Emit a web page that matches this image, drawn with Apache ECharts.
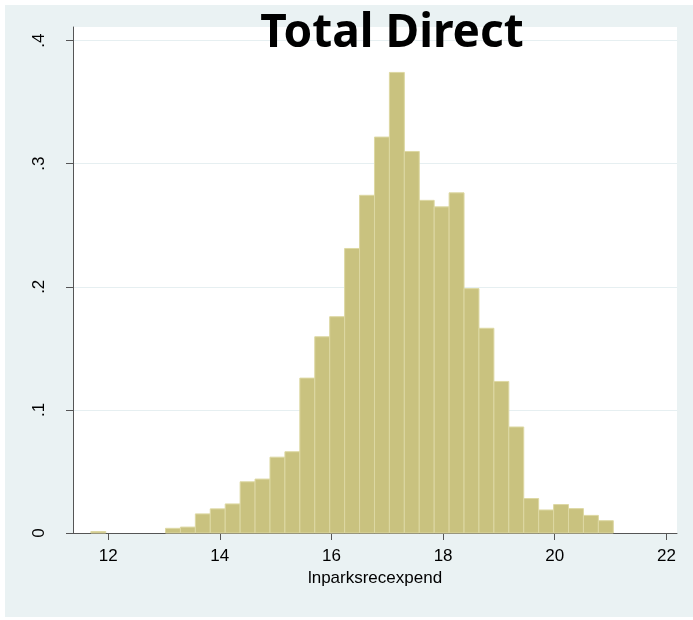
<!DOCTYPE html>
<html>
<head>
<meta charset="utf-8">
<script src="https://cdn.jsdelivr.net/npm/echarts@6/dist/echarts.min.js"></script>
<style>
  html, body { margin: 0; padding: 0; background: #ffffff; }
  #chart { position: absolute; left: 5px; top: 5px; width: 688px; height: 612px; }
</style>
</head>
<body>
<div id="chart"></div>
<script>
// Histogram bins: left edge of the first bin and the common bin width
const binStart = 11.69;
const binWidth = 0.2674;
// Density of each bin, in order from binStart
const binDensity = [
  0.0012, 0, 0, 0, 0,
  0.0038, 0.0048, 0.0155, 0.0196, 0.0236,
  0.0416, 0.0438, 0.0616, 0.0660, 0.1258,
  0.1594, 0.1757, 0.2311, 0.2743, 0.3216,
  0.3741, 0.3099, 0.2702, 0.2649, 0.2763,
  0.1985, 0.1663, 0.1231, 0.0861, 0.0280,
  0.0187, 0.0231, 0.0198, 0.0143, 0.0100
];
const xTicks = [12, 14, 16, 18, 20, 22];
const yTicks = [0, 0.1, 0.2, 0.3, 0.4];
const yTickLabels = ['0', '.1', '.2', '.3', '.4'];
const titleText = 'Total Direct';
const xTitle = 'lnparksrecexpend';

// [left edge, right edge, density] for every non-empty bin
const bars = [];
binDensity.forEach((d, i) => {
  if (d > 0) bars.push([binStart + i * binWidth, binStart + (i + 1) * binWidth, d]);
});

const chart = echarts.init(document.getElementById('chart'));
const axisColor = '#555555';
const labelFont = '"Liberation Sans", Arial, sans-serif';

chart.setOption({
  backgroundColor: '#eaf2f3',
  animation: false,
  title: {
    text: titleText,
    left: 382,
    top: 1,
    textAlign: 'center',
    textStyle: {
      fontFamily: '"Noto Sans", sans-serif',
      fontWeight: 'bold',
      fontSize: 46,
      color: '#000000'
    }
  },
  grid: {
    left: 68, right: 16, top: 22, bottom: 84,
    show: true, backgroundColor: '#ffffff', borderWidth: 0
  },
  xAxis: {
    type: 'value',
    min: 11.37,
    max: 22.19,
    name: xTitle,
    nameLocation: 'middle',
    nameGap: 37,
    nameTextStyle: { fontFamily: labelFont, fontSize: 17, color: '#000000' },
    axisLine: { show: true, onZero: false, lineStyle: { color: axisColor, width: 1 } },
    axisTick: { show: true, length: 7, customValues: xTicks, lineStyle: { color: axisColor } },
    axisLabel: {
      customValues: xTicks, margin: 15,
      fontFamily: labelFont, fontSize: 17, color: '#000000'
    },
    splitLine: { show: false }
  },
  yAxis: {
    type: 'value',
    min: 0,
    max: 0.411,
    interval: 0.1,
    axisLine: { show: true, lineStyle: { color: axisColor, width: 1 } },
    axisTick: { show: true, length: 7, customValues: yTicks, lineStyle: { color: axisColor } },
    axisLabel: {
      customValues: yTicks,
      rotate: 90,
      margin: 25,
      fontFamily: labelFont, fontSize: 17, color: '#000000',
      formatter: (v) => {
        const i = yTicks.findIndex(t => Math.abs(t - v) < 1e-9);
        return i >= 0 ? yTickLabels[i] : '';
      }
    },
    splitLine: { show: true, lineStyle: { color: '#e6eff1', width: 1 } }
  },
  series: [{
    type: 'custom',
    data: bars,
    encode: { x: [0, 1], y: 2 },
    renderItem: (params, api) => {
      const p0 = api.coord([api.value(0), api.value(2)]);
      const p1 = api.coord([api.value(1), 0]);
      return {
        type: 'rect',
        shape: { x: p0[0], y: p0[1], width: p1[0] - p0[0], height: p1[1] - p0[1] },
        style: { fill: '#c9c27f', stroke: '#ddd8a3', lineWidth: 1 }
      };
    }
  }]
});
</script>
</body>
</html>
